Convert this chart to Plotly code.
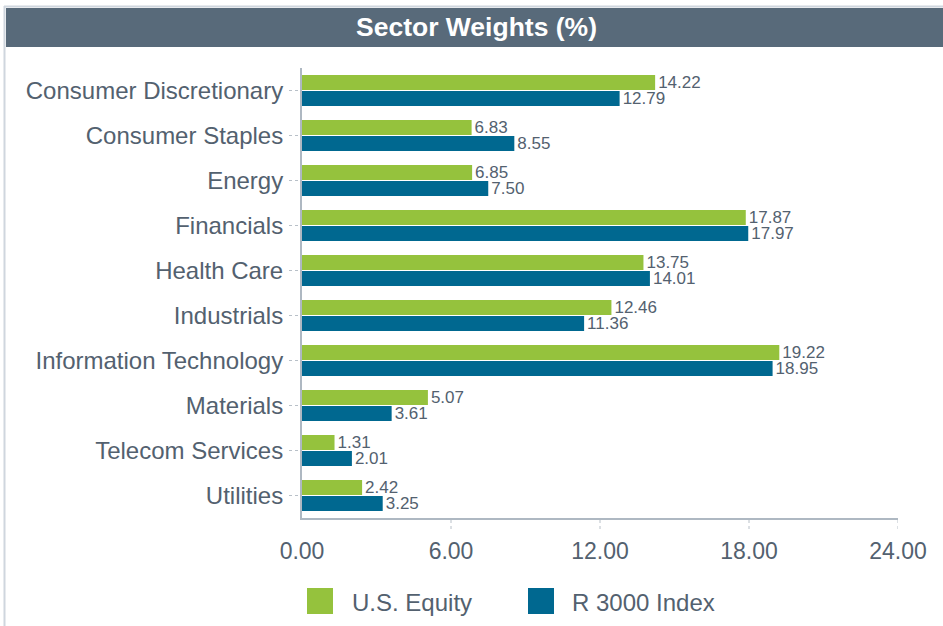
import plotly.graph_objects as go

# data
sectors = ['Consumer Discretionary', 'Consumer Staples', 'Energy', 'Financials',
           'Health Care', 'Industrials', 'Information Technology', 'Materials',
           'Telecom Services', 'Utilities']
us_equity = [14.22, 6.83, 6.85, 17.87, 13.75, 12.46, 19.22, 5.07, 1.31, 2.42]
r3000 = [12.79, 8.55, 7.50, 17.97, 14.01, 11.36, 18.95, 3.61, 2.01, 3.25]
x_ticks = [0, 6, 12, 18, 24]
series_names = ['U.S. Equity', 'R 3000 Index']

GREEN = '#95c23d'
BLUE = '#006890'
TEXT = '#53616f'
FONT = 'Liberation Sans, Arial, sans-serif'

# canvas / margins in pixels
W, H = 943, 626
ML, MR, MT, MB = 302, 45, 68, 108
PW, PH = W - ML - MR, H - MT - MB


def xp(px):
    return (px - ML) / PW


def yp(py):
    return (H - MB - py) / PH


fig = go.Figure()
for name, vals, color in [(series_names[0], us_equity, GREEN), (series_names[1], r3000, BLUE)]:
    fig.add_trace(go.Bar(
        y=sectors, x=vals, orientation='h', name=name,
        marker=dict(color=color, line=dict(width=0)),
        text=[f'{v:.2f}' for v in vals], textposition='outside',
        constraintext='none',
        textfont=dict(size=17, color=TEXT, family=FONT),
        cliponaxis=False, showlegend=False,
    ))

shapes = []
# frame lines and title bar
shapes.append(dict(type='line', xref='paper', yref='paper', x0=xp(4.5), x1=xp(4.5),
                   y0=yp(6), y1=yp(H), line=dict(color='#cfd6de', width=2)))
shapes.append(dict(type='line', xref='paper', yref='paper', x0=xp(4), x1=xp(W),
                   y0=yp(6.5), y1=yp(6.5), line=dict(color='#cfd6de', width=2)))
shapes.append(dict(type='rect', xref='paper', yref='paper', x0=xp(6), x1=xp(W),
                   y0=yp(47), y1=yp(8), fillcolor='#586a7a', line=dict(width=0), layer='below'))

# dotted tick marks
for t in x_ticks[1:]:
    shapes.append(dict(type='line', xref='x', yref='paper', x0=t, x1=t,
                       y0=yp(520), y1=yp(531), line=dict(color='#b8c0c8', width=1, dash='dot')))
for s in sectors:
    shapes.append(dict(type='line', xref='paper', yref='y', x0=xp(289), x1=xp(299),
                       y0=s, y1=s, line=dict(color='#b8c0c8', width=1, dash='dot')))

# legend squares
shapes.append(dict(type='rect', xref='paper', yref='paper', x0=xp(307), x1=xp(333),
                   y0=yp(614), y1=yp(588), fillcolor=GREEN, line=dict(width=0)))
shapes.append(dict(type='rect', xref='paper', yref='paper', x0=xp(528), x1=xp(554),
                   y0=yp(614), y1=yp(588), fillcolor=BLUE, line=dict(width=0)))

annotations = [
    dict(text='<b>Sector Weights (%)</b>', xref='paper', yref='paper', x=xp(476), y=yp(27.5),
         xanchor='center', yanchor='middle',
         showarrow=False, font=dict(size=26.5, color='white', family=FONT)),
    dict(text=series_names[0], xref='paper', yref='paper', x=xp(350), y=yp(602),
         xanchor='left', yanchor='middle',
         showarrow=False, font=dict(size=24, color=TEXT, family=FONT)),
    dict(text=series_names[1], xref='paper', yref='paper', x=xp(570), y=yp(602),
         xanchor='left', yanchor='middle',
         showarrow=False, font=dict(size=24, color=TEXT, family=FONT)),
]

fig.update_layout(
    width=W, height=H,
    margin=dict(l=ML, r=MR, t=MT, b=MB, pad=0),
    paper_bgcolor='white', plot_bgcolor='white',
    barmode='group', bargap=0.29, bargroupgap=0.07,
    font=dict(family=FONT, color=TEXT),
    shapes=shapes, annotations=annotations,
    showlegend=False,
    xaxis=dict(range=[0, 24], tickvals=x_ticks, tickformat='.2f',
               showgrid=False, zeroline=False, showline=True,
               linecolor='#aeb8c2', linewidth=2,
               ticks='outside', ticklen=11, tickcolor='rgba(0,0,0,0)',
               tickfont=dict(size=23, color=TEXT, family=FONT)),
    yaxis=dict(autorange='reversed', showgrid=False, showline=True,
               linecolor='#aeb8c2', linewidth=2,
               ticks='outside', ticklen=10, tickcolor='rgba(0,0,0,0)',
               ticklabelstandoff=2,
               tickfont=dict(size=24, color=TEXT, family=FONT)),
)

fig.write_html("out.html", config={'displayModeBar': False},
               post_script="document.body.style.margin='0';")
